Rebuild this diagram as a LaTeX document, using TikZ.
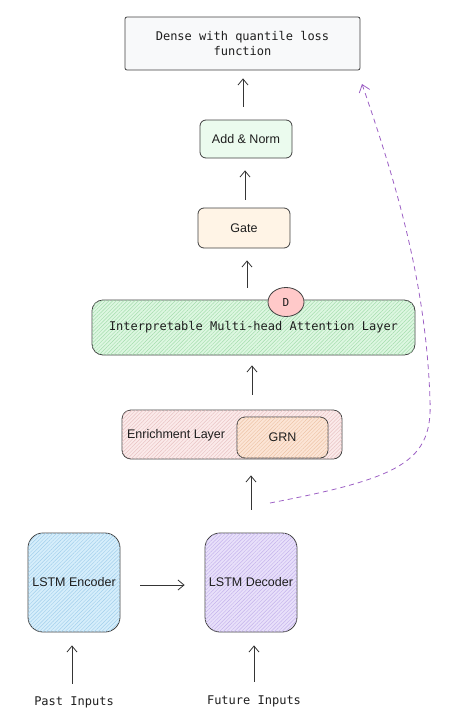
\documentclass[tikz,border=0pt]{standalone}
\usepackage{fontspec}
\setmainfont{Liberation Sans}
\setmonofont{DejaVu Sans Mono}
\usepackage{tikz}
\usetikzlibrary{shapes.geometric,arrows.meta,patterns.meta,calc,positioning}

\definecolor{inkgray}{HTML}{1E1E1E}
\definecolor{densefill}{HTML}{F8F9FA}
\definecolor{normfill}{HTML}{EBFBEE}
\definecolor{gatefill}{HTML}{FFF4E6}
\definecolor{attnfill}{HTML}{DDF7E1}
\definecolor{attnline}{HTML}{A3DDAC}
\definecolor{enrichfill}{HTML}{FBEAEA}
\definecolor{enrichline}{HTML}{E8C2C2}
\definecolor{grnfill}{HTML}{FCE5D6}
\definecolor{grnline}{HTML}{EDC3A6}
\definecolor{encfill}{HTML}{D6EEFB}
\definecolor{encline}{HTML}{A2CFEC}
\definecolor{decfill}{HTML}{E8E0FA}
\definecolor{decline}{HTML}{C4B2EC}
\definecolor{dropfill}{HTML}{FFC9C9}
\definecolor{skipline}{HTML}{9C5FC4}

\begin{document}
\begin{tikzpicture}[x=1pt, y=-1pt, inkgray,
    box/.style={draw=inkgray!85, line width=0.8pt, rounded corners=6pt,
        inner sep=0pt, align=center, font=\fontsize{12.5}{15}\selectfont},
    monotext/.style={font=\ttfamily\fontsize{12}{15}\selectfont},
    hatch/.style={postaction={pattern={Lines[angle=45,distance=2.6pt,line width=0.45pt]},
        pattern color=#1}},
    arr/.style={-{Straight Barb[length=6pt,width=10pt]}, line width=0.8pt, draw=inkgray!90},
    skip/.style={-{Straight Barb[length=7pt,width=11pt]}, line width=0.8pt,
        draw=skipline, dash pattern=on 5pt off 4pt}]
   \useasboundingbox (0,0) rectangle (448,715);

   % layers, bottom to top
   \node (enc) [box, rounded corners=15pt, fill=encfill, hatch=encline,
        minimum width=92pt, minimum height=99pt] at (74,582.5) {LSTM Encoder};
   \node (dec) [box, rounded corners=15pt, fill=decfill, hatch=decline,
        minimum width=92pt, minimum height=99pt] at (251,582.5) {LSTM Decoder};
   \node (past) [monotext] at (74,702) {Past Inputs};
   \node (future) [monotext] at (254,701) {Future Inputs};

   \node (enrich) [box, rounded corners=9pt, fill=enrichfill, hatch=enrichline,
        minimum width=220pt, minimum height=49pt,
        label={[anchor=west, xshift=2pt, yshift=-1pt, font=\fontsize{12.5}{15}\selectfont]west:Enrichment Layer}]
        at (232,434.5) {};
   \node (grn) [box, rounded corners=8pt, fill=grnfill, hatch=grnline,
        minimum width=91pt, minimum height=41pt] at (282.5,437.5) {GRN};

   \node (attn) [box, monotext, rounded corners=11pt, fill=attnfill, hatch=attnline,
        minimum width=323pt, minimum height=55pt] at (253.5,327.5)
        {Interpretable Multi-head Attention Layer};
   \node (drop) [ellipse, draw=inkgray!85, line width=0.8pt, fill=dropfill,
        minimum width=36pt, minimum height=29pt, inner sep=0pt,
        font=\ttfamily\fontsize{11}{13}\selectfont] at (286,302) {D};

   \node (gate) [box, fill=gatefill, minimum width=92pt, minimum height=40pt] at (244,228) {Gate};
   \node (norm) [box, fill=normfill, minimum width=92pt, minimum height=38pt] at (246,139) {Add \& Norm};
   \node (dense) [box, monotext, rounded corners=2pt, fill=densefill,
        minimum width=235pt, minimum height=53pt] at (242.5,43.5)
        {Dense with quantile loss\\function};

   % connectors
   \draw [arr, shorten <=9pt, shorten >=13pt] ($(past.north)+(-2,0)$) -- ($(enc.south)+(-2,0)$);
   \draw [arr, shorten <=10pt, shorten >=13pt] (future.north) -- (future.north |- dec.south);
   \draw [arr, shorten <=20pt, shorten >=20pt] (enc.east |- 0,585) -- (dec.west |- 0,585);
   \draw [arr, shorten <=23pt, shorten >=16pt] (dec.north) -- (dec.north |- enrich.south);
   \draw [arr, shorten <=15pt, shorten >=10pt] (enrich.north -| 252,0) -- (252,0 |- attn.south);
   \draw [arr, shorten <=12pt, shorten >=12pt] (attn.north -| 247,0) -- (247,0 |- gate.south);
   \draw [arr, shorten <=8pt, shorten >=12pt] (gate.north -| 245,0) -- (245,0 |- norm.south);
   \draw [arr, shorten <=13pt, shorten >=8pt] (norm.north -| 243,0) -- (243,0 |- dense.south);

   % skip connection
   \coordinate (skipstart) at (270,503);
   \coordinate (skipend) at (362,84);
   \draw [skip] (skipstart) .. controls (400,478) and (433,462) .. (430,400)
        .. controls (426,280) and (395,180) .. (skipend);
\end{tikzpicture}
\end{document}
